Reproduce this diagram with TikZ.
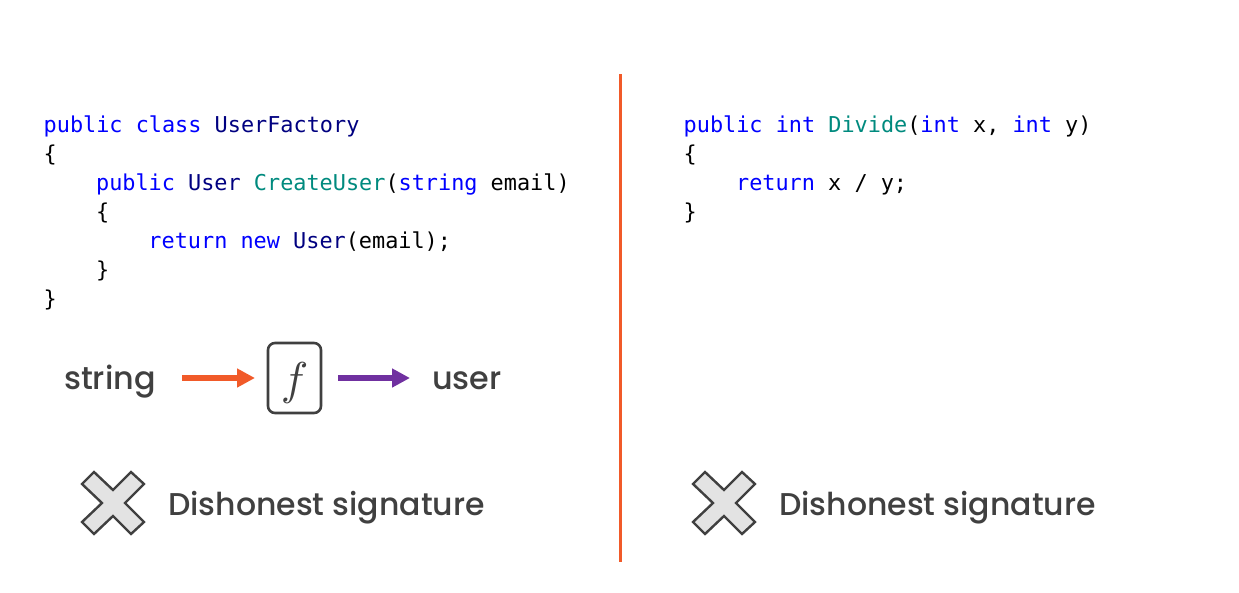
\documentclass[tikz,border=0pt]{standalone}
\usepackage{fontspec}
\setmainfont{Poppins}
\setmonofont{DejaVu Sans Mono}
\newfontfamily\labelfont{Poppins Medium}
\usepackage{amsmath}
\usepackage{xcolor}
\usetikzlibrary{arrows.meta,positioning,calc}
\definecolor{kwblue}{HTML}{0000FF}
\definecolor{typenavy}{HTML}{000080}
\definecolor{methteal}{HTML}{008A7E}
\definecolor{inkgray}{HTML}{404040}
\definecolor{orangeln}{HTML}{F15A29}
\definecolor{purpleln}{HTML}{7030A0}
\newcommand{\kw}[1]{\textcolor{kwblue}{#1}}
\newcommand{\ty}[1]{\textcolor{typenavy}{#1}}
\newcommand{\me}[1]{\textcolor{methteal}{#1}}
\begin{document}
\begin{tikzpicture}[
  x=1pt, y=-1pt,
  node distance=26pt and 26pt,
  code/.style={anchor=north west, align=left, inner sep=0pt,
               font=\fontsize{21.85}{29}\selectfont\ttfamily},
  label/.style={inner sep=0pt, text=inkgray, font=\labelfont\fontsize{31.8}{36}\selectfont},
  verdict/.style={anchor=base west, inner sep=0pt, text=inkgray, font=\labelfont\fontsize{31.5}{36}\selectfont},
  fbox/.style={draw=inkgray, line width=2.6pt, rounded corners=7pt,
               minimum width=53pt, minimum height=70pt, inner sep=0pt, text=inkgray},
  arr/.style={-{Triangle[length=18pt,width=18pt]}, line width=6pt},
  crossmark/.pic={
    \draw[draw=inkgray, fill=gray!22, line width=2.4pt, line join=miter]
      (-19,-31) -- (0,-13) -- (18,-31) -- (31,-19) -- (12,0) -- (31,19)
      -- (18,31) -- (0,13) -- (-19,31) -- (-31,19) -- (-11,0) -- (-31,-19) -- cycle;
  }
]
\useasboundingbox (0,0) rectangle (1239,592);
% left code
\node[code] (factory) at (43.5,116) {\kw{public} \kw{class} \ty{UserFactory}\\
{\{}\\
\hspace*{52.4pt}\kw{public} \ty{User} \me{CreateUser}(\kw{string} email)\\
\hspace*{52.4pt}\{\\
\hspace*{104.8pt}\kw{return} \kw{new} \ty{User}(email);\\
\hspace*{52.4pt}\}\\
\}};
% right code
\node[code] (divide) at (683.5,116) {\kw{public} \kw{int} \me{Divide}(\kw{int} x, \kw{int} y)\\
\{\\
\hspace*{52.4pt}\kw{return} x / y;\\
\}};
% divider
\coordinate (top) at (620,74);
\coordinate (bot) at (620,562);
\draw[orangeln, line width=3pt] (top) -- (bot);
% function box
\node[fbox] (func) at (294.5,378) {\raisebox{-16.5pt}[20pt][20pt]{\scalebox{4.6}{$f$}}};
\node[label, anchor=base east] (input) at (156,389) {string};
\node[label, anchor=base west] (output) at (432,389) {user};
\coordinate (inend) at (255,378);
\coordinate (instart) at (182,378);
\coordinate (outstart) at (338,378);
\coordinate (outend) at (410,378);
\draw[arr, orangeln] (instart) -- (inend);
\draw[arr, purpleln] (outstart) -- (outend);
% verdicts
\pic at (113,503) {crossmark};
\pic at (724,503) {crossmark};
\node[verdict] (leftverdict) at (168,515) {Dishonest signature};
\node[verdict] (rightverdict) at (779,515) {Dishonest signature};
\end{tikzpicture}
\end{document}
